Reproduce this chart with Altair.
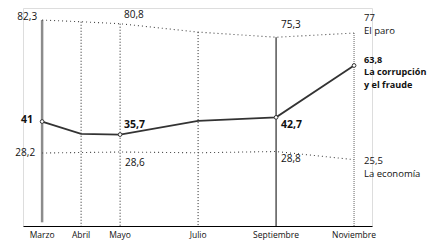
import altair as alt
import pandas as pd

months = ["Marzo", "Abril", "Mayo", "Julio", "Septiembre", "Noviembre"]
month_num = [3, 4, 5, 7, 9, 11]
paro = [82.3, 81.6, 80.8, 77.4, 75.3, 77.0]
corrupcion = [41.0, 36.0, 35.7, 41.3, 42.7, 63.8]
economia = [28.2, 28.4, 28.6, 28.3, 28.8, 25.5]
marked = [True, False, True, False, True, True]
series_names = ["El paro", "La corrupción\ny el fraude", "La economía"]
axis_base = -1.5


def fmt(v):
    return "{:g}".format(v).replace(".", ",")


df = pd.DataFrame({
    "mes": months, "m": month_num, "paro": paro, "corr": corrupcion,
    "eco": economia, "marked": marked,
})
df["paro_t"] = [fmt(v) for v in paro]
df["corr_t"] = [fmt(v) for v in corrupcion]
df["eco_t"] = [fmt(v) for v in economia]
df["paro_end"] = [fmt(v) + "\n" + series_names[0] for v in paro]
df["corr_end"] = [fmt(v) + "\n" + series_names[1] for v in corrupcion]
df["eco_end"] = [fmt(v) + "\n" + series_names[2] for v in economia]

FONT = "Open Sans"
xs = alt.Scale(domain=[2.51, 11.46], nice=False, zero=False)
ys = alt.Scale(domain=[axis_base, 87.2], nice=False, zero=False)
X = alt.X("m:Q", scale=xs, axis=alt.Axis(domain=True, domainColor="black", domainWidth=1,
                                         ticks=False, labels=False, grid=False, title=None))

base = alt.Chart(df)


def Y(field):
    return alt.Y(field + ":Q", scale=ys, axis=None)


rule_marzo = base.transform_filter(alt.datum.m == 3).mark_rule(
    color="#8c8c8c", strokeWidth=2.5).encode(x=X, y=Y("paro"), y2=alt.datum(0))
rule_sept = base.transform_filter(alt.datum.m == 9).mark_rule(
    color="#000", strokeWidth=1).encode(x=X, y=Y("paro"), y2=alt.datum(axis_base))
rule_dot = base.transform_filter("datum.m==4 || datum.m==5 || datum.m==7").mark_rule(
    color="#222", strokeWidth=1, strokeDash=[1, 2]).encode(x=X, y=Y("paro"), y2=alt.datum(axis_base))
rule_nov = base.transform_filter(alt.datum.m == 11).mark_rule(
    color="#999", strokeWidth=1.5, strokeDash=[1, 1]).encode(x=X, y=Y("paro"), y2=alt.datum(axis_base))

line_paro = base.mark_line(color="#444", strokeWidth=1.1, strokeDash=[1, 3]).encode(x=X, y=Y("paro"))
line_eco = base.mark_line(color="#444", strokeWidth=1.1, strokeDash=[1, 3]).encode(x=X, y=Y("eco"))
line_corr = base.mark_line(color="#333", strokeWidth=1.8).encode(x=X, y=Y("corr"))
pts = base.transform_filter(alt.datum.marked).mark_point(
    shape="circle", filled=True, fill="white", stroke="#333", strokeWidth=1, size=14, opacity=1
).encode(x=X, y=Y("corr"))


def lbl(filt, yfield, tfield, dx, dy, align="left", baseline="middle", bold=False, lh=None, size=None):
    if size is None:
        size = 10.5 if bold else 10
    kw = dict(font=FONT, fontSize=size, fontWeight="bold" if bold else "normal",
              color="#111", dx=dx, dy=dy, align=align, baseline=baseline)
    if lh is not None:
        kw.update(lineBreak="\n", lineHeight=lh)
    return base.transform_filter(filt).mark_text(**kw).encode(
        x=X, y=Y(yfield), text=tfield + ":N")


labels = [
    lbl(alt.datum.m == 3, "paro", "paro_t", -5, -3, align="right"),
    lbl(alt.datum.m == 3, "corr", "corr_t", -9, -1.5, align="right", bold=True),
    lbl(alt.datum.m == 3, "eco", "eco_t", -7, 0, align="right"),
    lbl(alt.datum.m == 5, "paro", "paro_t", 4, -9),
    lbl(alt.datum.m == 5, "corr", "corr_t", 4, -10, bold=True),
    lbl(alt.datum.m == 5, "eco", "eco_t", 5, 11),
    lbl(alt.datum.m == 9, "paro", "paro_t", 5, -12),
    lbl(alt.datum.m == 9, "corr", "corr_t", 5, 8, bold=True),
    lbl(alt.datum.m == 9, "eco", "eco_t", 5, 7),
    lbl(alt.datum.m == 11, "paro", "paro_end", 10, -20, baseline="top", lh=13, size=9.5),
    lbl(alt.datum.m == 11, "corr", "corr_end", 10, -10, baseline="top", bold=True, lh=12.5, size=9.1),
    lbl(alt.datum.m == 11, "eco", "eco_end", 10, -4, baseline="top", lh=13, size=9.5),
]

month_lbl = base.mark_text(font=FONT, fontSize=8.5, color="#111", dy=9, baseline="middle").encode(
    x=X, y=alt.datum(axis_base), text="mes:N")

chart = alt.layer(
    rule_marzo, rule_sept, rule_dot, rule_nov, line_paro, line_eco, line_corr, pts,
    *labels, month_lbl
).properties(
    width=349, height=218,
    autosize=alt.AutoSizeParams(type="none"),
    padding={"left": 15, "top": 0, "right": 58, "bottom": 16},
).configure_view(stroke=None).configure(background="white")

chart.save("out.html", embed_options={"renderer": "svg", "actions": False})
